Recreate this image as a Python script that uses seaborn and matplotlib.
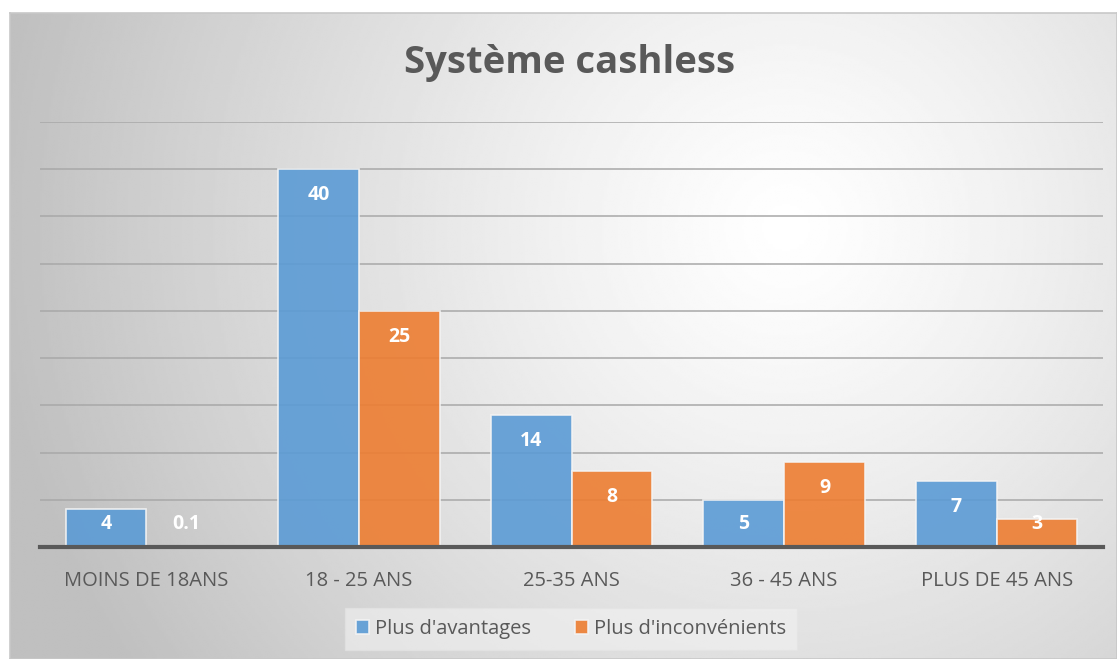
import numpy as np
import pandas as pd
import matplotlib
matplotlib.use("Agg")
import matplotlib.pyplot as plt
import seaborn as sns

# ----------------------
# Data
# ----------------------
categories = ["MOINS DE 18ANS", "18 - 25 ANS", "25-35 ANS", "36 - 45 ANS", "PLUS DE 45 ANS"]
avantages = [4, 40, 14, 5, 7]
inconvenients = [0.1, 25, 8, 9, 3]
series = ["Plus d'avantages", "Plus d'inconvénients"]

df = pd.DataFrame({
    "Tranche": categories * 2,
    "Valeur": avantages + inconvenients,
    "Avis": [series[0]] * len(categories) + [series[1]] * len(categories),
})

sns.set_theme(style="white")
plt.rcParams["font.family"] = ["Open Sans", "DejaVu Sans"]

W, H = 1117, 659
fig = plt.figure(figsize=(W / 100, H / 100), dpi=100)
fig.patch.set_facecolor("white")

# ----------------------
# Background: radial grey gradient inside a frame
# ----------------------
bg = fig.add_axes([10 / W, 0, (W - 10) / W, (H - 13) / H])
yy, xx = np.mgrid[0:300, 0:500]
cx, cy = 0.70 * 500, 0.33 * 300
r = np.sqrt(((xx - cx) / 500) ** 2 + ((yy - cy) / 300) ** 2 * 0.35)
r = np.clip(r / 0.72, 0, 1)
shade = 1.0 - 0.25 * r ** 1.2
bg.imshow(shade, cmap="gray", vmin=0, vmax=1, aspect="auto", extent=[0, 1, 0, 1],
          origin="upper", interpolation="bilinear")
bg.set_xticks([])
bg.set_yticks([])
for s in bg.spines.values():
    s.set_color("#c8c8c8")
    s.set_linewidth(1.2)
bg.set_zorder(0)

# ----------------------
# Bars
# ----------------------
ax = fig.add_axes([40 / W, 1 - 547 / H, 1063 / W, 425 / H])
ax.set_zorder(1)
ax.patch.set_alpha(0)

palette = {series[0]: "#5B9BD5", series[1]: "#ED7D31"}
sns.barplot(data=df, x="Tranche", y="Valeur", hue="Avis", palette=palette,
            width=0.76, alpha=0.9, edgecolor="#f4f4f4", linewidth=1.2,
            saturation=1, ax=ax, legend=True)

ax.set_ylim(0, 45)
ax.set_xlim(-0.5, len(categories) - 0.5)
ax.set_yticks(np.arange(5, 46, 5))
ax.yaxis.grid(True, color="#a8a8a8", linewidth=1.1)
ax.set_axisbelow(True)
ax.tick_params(axis="y", left=False, labelleft=False)
ax.tick_params(axis="x", bottom=False, labelsize=14.5, colors="#595959", pad=11)
ax.set_xlabel("")
ax.set_ylabel("")
for side in ["top", "right", "left"]:
    ax.spines[side].set_visible(False)
ax.spines["bottom"].set_color("#595959")
ax.spines["bottom"].set_linewidth(3)

# data labels (inside end, white bold)
units_per_px = 45 / 425
for cont in ax.containers:
    for bar in cont:
        v = bar.get_height()
        ypos = max(v - 26 * units_per_px, 23 * units_per_px)
        lab = f"{v:g}"
        ax.text(bar.get_x() + bar.get_width() / 2, ypos, lab, ha="center", va="center",
                color="white", fontsize=14, fontweight="bold")

ax.legend(loc="center", bbox_to_anchor=(571 / W, 1 - 629 / H), bbox_transform=fig.transFigure,
          ncol=2, frameon=True, fontsize=14.5, handlelength=0.65, handleheight=0.65,
          handletextpad=0.3, columnspacing=2.2, borderpad=0.55,
          labelcolor="#595959", edgecolor="#e4e4e4", facecolor="#f2f2f2", framealpha=0.6,
          fancybox=False, title=None)

fig.text(570 / W, 1 - 63 / H, "Système cashless", ha="center", va="center",
         fontsize=27.5, fontweight="bold", color="#595959")

fig.savefig("out.png", dpi=100)
